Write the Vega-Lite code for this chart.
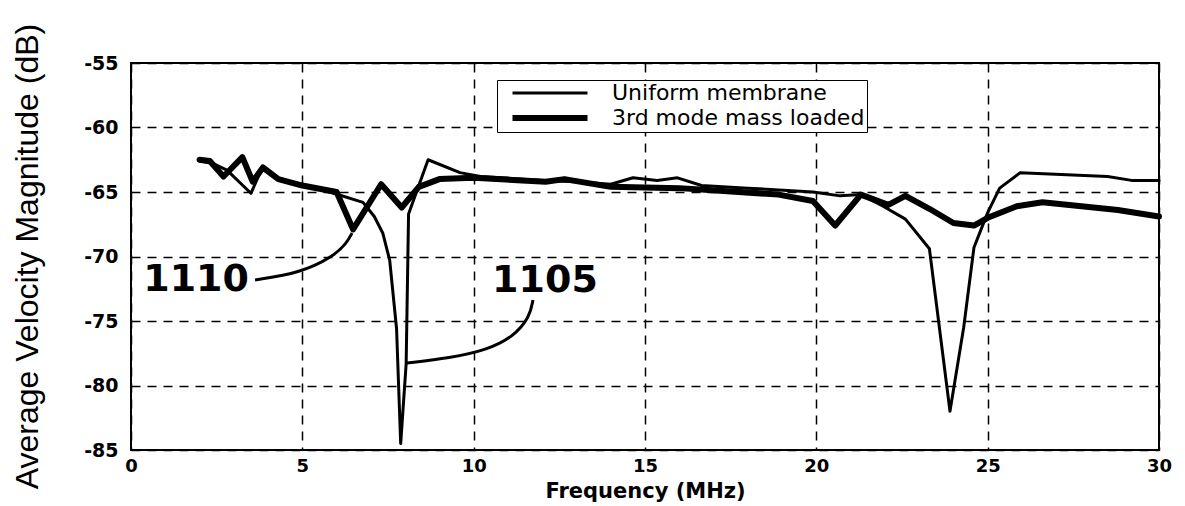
{
  "$schema": "https://vega.github.io/schema/vega-lite/v6.json",
  "width": 1028,
  "height": 387,
  "autosize": {"type": "none"},
  "padding": {"left": 131, "top": 63, "right": 26, "bottom": 56},
  "background": "white",
  "config": {
    "view": {"stroke": "black", "strokeWidth": 2},
    "axis": {
      "grid": true,
      "gridColor": "black",
      "gridDash": [9, 7],
      "gridWidth": 1.5,
      "gridOpacity": 1,
      "ticks": false,
      "domain": false,
      "labelFont": "DejaVu Sans",
      "labelFontWeight": "bold",
      "labelFontSize": 18,
      "labelColor": "black",
      "labelFlush": false,
      "labelOverlap": false,
      "labelBound": false,
      "labelExpr": "'' + datum.value",
      "titleColor": "black"
    }
  },
  "datasets": {
    "curves": [
      {"f": 2.0, "db": -62.6, "series": "Uniform membrane"},
      {"f": 2.4, "db": -62.8, "series": "Uniform membrane"},
      {"f": 2.8, "db": -63.3, "series": "Uniform membrane"},
      {"f": 3.5, "db": -65.1, "series": "Uniform membrane"},
      {"f": 3.85, "db": -63.0, "series": "Uniform membrane"},
      {"f": 4.3, "db": -64.0, "series": "Uniform membrane"},
      {"f": 5.0, "db": -64.4, "series": "Uniform membrane"},
      {"f": 5.8, "db": -65.0, "series": "Uniform membrane"},
      {"f": 6.77, "db": -65.8, "series": "Uniform membrane"},
      {"f": 7.1, "db": -66.9, "series": "Uniform membrane"},
      {"f": 7.35, "db": -68.2, "series": "Uniform membrane"},
      {"f": 7.55, "db": -70.3, "series": "Uniform membrane"},
      {"f": 7.75, "db": -75.6, "series": "Uniform membrane"},
      {"f": 7.87, "db": -84.5, "series": "Uniform membrane"},
      {"f": 8.03, "db": -78.3, "series": "Uniform membrane"},
      {"f": 8.1, "db": -66.7, "series": "Uniform membrane"},
      {"f": 8.67, "db": -62.5, "series": "Uniform membrane"},
      {"f": 9.6, "db": -63.5, "series": "Uniform membrane"},
      {"f": 10.2, "db": -63.8, "series": "Uniform membrane"},
      {"f": 12.0, "db": -64.1, "series": "Uniform membrane"},
      {"f": 13.0, "db": -64.2, "series": "Uniform membrane"},
      {"f": 14.0, "db": -64.4, "series": "Uniform membrane"},
      {"f": 14.65, "db": -63.9, "series": "Uniform membrane"},
      {"f": 15.35, "db": -64.1, "series": "Uniform membrane"},
      {"f": 15.95, "db": -63.9, "series": "Uniform membrane"},
      {"f": 16.65, "db": -64.5, "series": "Uniform membrane"},
      {"f": 18.0, "db": -64.7, "series": "Uniform membrane"},
      {"f": 19.9, "db": -65.0, "series": "Uniform membrane"},
      {"f": 20.7, "db": -65.3, "series": "Uniform membrane"},
      {"f": 21.3, "db": -65.2, "series": "Uniform membrane"},
      {"f": 21.95, "db": -66.1, "series": "Uniform membrane"},
      {"f": 22.6, "db": -67.1, "series": "Uniform membrane"},
      {"f": 23.3, "db": -69.4, "series": "Uniform membrane"},
      {"f": 23.9, "db": -82.0, "series": "Uniform membrane"},
      {"f": 24.3, "db": -75.5, "series": "Uniform membrane"},
      {"f": 24.6, "db": -69.3, "series": "Uniform membrane"},
      {"f": 25.0, "db": -66.6, "series": "Uniform membrane"},
      {"f": 25.35, "db": -64.7, "series": "Uniform membrane"},
      {"f": 25.95, "db": -63.5, "series": "Uniform membrane"},
      {"f": 28.5, "db": -63.8, "series": "Uniform membrane"},
      {"f": 29.2, "db": -64.1, "series": "Uniform membrane"},
      {"f": 30.0, "db": -64.1, "series": "Uniform membrane"},
      {"f": 2.0, "db": -62.5, "series": "3rd mode mass loaded"},
      {"f": 2.3, "db": -62.6, "series": "3rd mode mass loaded"},
      {"f": 2.7, "db": -63.8, "series": "3rd mode mass loaded"},
      {"f": 3.25, "db": -62.3, "series": "3rd mode mass loaded"},
      {"f": 3.55, "db": -64.2, "series": "3rd mode mass loaded"},
      {"f": 3.85, "db": -63.1, "series": "3rd mode mass loaded"},
      {"f": 4.3, "db": -64.0, "series": "3rd mode mass loaded"},
      {"f": 5.0, "db": -64.5, "series": "3rd mode mass loaded"},
      {"f": 6.0, "db": -65.0, "series": "3rd mode mass loaded"},
      {"f": 6.48, "db": -67.9, "series": "3rd mode mass loaded"},
      {"f": 7.3, "db": -64.4, "series": "3rd mode mass loaded"},
      {"f": 7.9, "db": -66.2, "series": "3rd mode mass loaded"},
      {"f": 8.4, "db": -64.6, "series": "3rd mode mass loaded"},
      {"f": 9.0, "db": -64.0, "series": "3rd mode mass loaded"},
      {"f": 10.0, "db": -63.9, "series": "3rd mode mass loaded"},
      {"f": 12.1, "db": -64.2, "series": "3rd mode mass loaded"},
      {"f": 12.65, "db": -64.0, "series": "3rd mode mass loaded"},
      {"f": 14.0, "db": -64.6, "series": "3rd mode mass loaded"},
      {"f": 16.0, "db": -64.7, "series": "3rd mode mass loaded"},
      {"f": 18.9, "db": -65.2, "series": "3rd mode mass loaded"},
      {"f": 19.9, "db": -65.7, "series": "3rd mode mass loaded"},
      {"f": 20.55, "db": -67.6, "series": "3rd mode mass loaded"},
      {"f": 21.3, "db": -65.2, "series": "3rd mode mass loaded"},
      {"f": 22.1, "db": -66.0, "series": "3rd mode mass loaded"},
      {"f": 22.6, "db": -65.3, "series": "3rd mode mass loaded"},
      {"f": 23.3, "db": -66.3, "series": "3rd mode mass loaded"},
      {"f": 24.0, "db": -67.4, "series": "3rd mode mass loaded"},
      {"f": 24.6, "db": -67.6, "series": "3rd mode mass loaded"},
      {"f": 25.0, "db": -67.0, "series": "3rd mode mass loaded"},
      {"f": 25.85, "db": -66.1, "series": "3rd mode mass loaded"},
      {"f": 26.6, "db": -65.8, "series": "3rd mode mass loaded"},
      {"f": 28.8, "db": -66.4, "series": "3rd mode mass loaded"},
      {"f": 30.0, "db": -66.9, "series": "3rd mode mass loaded"}
    ],
    "leaders": [
      {"label": "1110", "i": 0, "f": 3.62, "db": -71.82},
      {"label": "1110", "i": 1, "f": 4.93, "db": -71.28},
      {"label": "1110", "i": 2, "f": 5.89, "db": -70.04},
      {"label": "1110", "i": 3, "f": 6.3, "db": -68.95},
      {"label": "1110", "i": 4, "f": 6.45, "db": -68.18},
      {"label": "1105", "i": 0, "f": 11.73, "db": -73.37},
      {"label": "1105", "i": 1, "f": 11.64, "db": -74.69},
      {"label": "1105", "i": 2, "f": 11.15, "db": -76.24},
      {"label": "1105", "i": 3, "f": 10.39, "db": -77.25},
      {"label": "1105", "i": 4, "f": 9.31, "db": -77.87},
      {"label": "1105", "i": 5, "f": 8.05, "db": -78.26}
    ],
    "labels": [
      {"label": "1110", "f": 1.9, "db": -71.8},
      {"label": "1105", "f": 12.08, "db": -71.9}
    ]
  },
  "layer": [
    {
      "data": {"name": "curves"},
      "mark": {"type": "line", "color": "black", "strokeJoin": "round", "strokeCap": "round"},
      "encoding": {
        "x": {
          "field": "f", "type": "quantitative",
          "scale": {"domain": [0, 30], "nice": false},
          "axis": {
            "values": [0, 5, 10, 15, 20, 25, 30],
            "labelPadding": 7,
            "title": "Frequency (MHz)",
            "titleFont": "DejaVu Sans",
            "titleFontWeight": "bold",
            "titleFontSize": 21,
            "titleY": 47,
            "titleBaseline": "alphabetic"
          }
        },
        "y": {
          "field": "db", "type": "quantitative",
          "scale": {"domain": [-85, -55], "nice": false, "zero": false},
          "axis": {
            "values": [-85, -80, -75, -70, -65, -60, -55],
            "labelPadding": 13,
            "labelFontSize": 19,
            "title": "Average Velocity Magnitude (dB)",
            "titleFont": "Liberation Sans",
            "titleFontWeight": "normal",
            "titleFontSize": 32,
            "titleAngle": 270,
            "titleX": -94,
            "titleY": 193,
            "titleAlign": "center",
            "titleBaseline": "alphabetic"
          }
        },
        "strokeWidth": {
          "field": "series", "type": "ordinal",
          "scale": {"domain": ["Uniform membrane", "3rd mode mass loaded"], "range": [3, 6]},
          "legend": {
            "orient": "none",
            "legendX": 366,
            "legendY": 17,
            "title": null,
            "symbolType": "M-5,0H5",
            "symbolSize": 225,
            "symbolStrokeColor": "black",
            "labelFont": "DejaVu Sans",
            "labelFontSize": 22,
            "labelColor": "black",
            "labelLimit": 500,
            "labelOffset": 51,
            "fillColor": "white",
            "strokeColor": "black",
            "padding": 2,
            "symbolOffset": 40,
            "rowPadding": 2
          }
        }
      }
    },
    {
      "data": {"name": "leaders"},
      "mark": {"type": "line", "interpolate": "basis", "color": "black", "strokeWidth": 3},
      "encoding": {
        "x": {"field": "f", "type": "quantitative"},
        "y": {"field": "db", "type": "quantitative"},
        "detail": {"field": "label"},
        "order": {"field": "i"}
      }
    },
    {
      "data": {"name": "labels"},
      "mark": {"type": "text", "font": "DejaVu Sans", "fontWeight": "bold", "fontSize": 38, "color": "black", "baseline": "middle", "align": "center"},
      "encoding": {
        "x": {"field": "f", "type": "quantitative"},
        "y": {"field": "db", "type": "quantitative"},
        "text": {"field": "label"}
      }
    }
  ]
}
